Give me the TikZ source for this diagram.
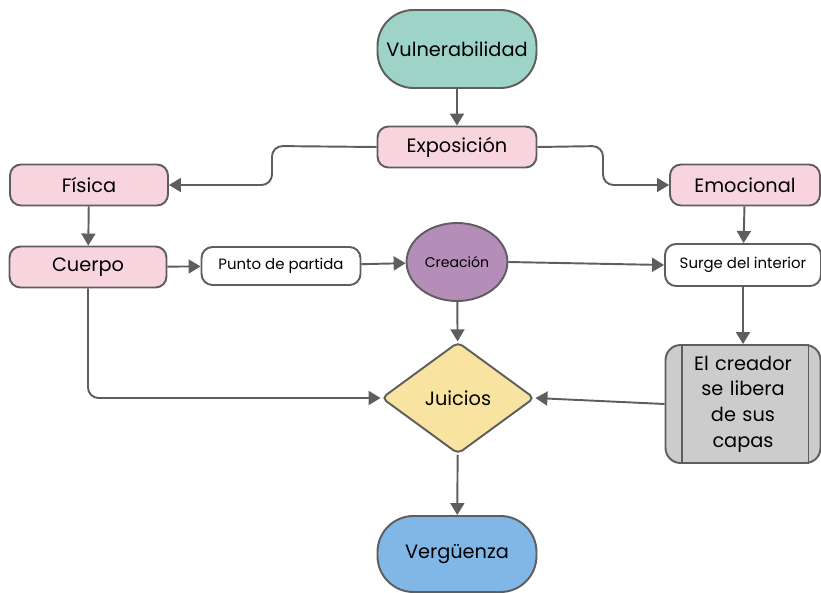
\documentclass[tikz,border=0pt]{standalone}
\usepackage{fontspec}
\setmainfont{Poppins}
\usepackage{xcolor}
\definecolor{linegrey}{RGB}{94,94,94}
\definecolor{tealfill}{RGB}{158,212,200}
\definecolor{pinkfill}{RGB}{248,212,223}
\definecolor{purplefill}{RGB}{180,141,184}
\definecolor{yellowfill}{RGB}{248,228,160}
\definecolor{greyfill}{RGB}{204,204,204}
\definecolor{bluefill}{RGB}{128,183,230}
\usetikzlibrary{shapes.geometric,arrows.meta,calc}

\begin{document}
\begin{tikzpicture}[x=0.02cm,y=-0.02cm,
        base/.style={draw=linegrey,line width=1.1pt,align=center,inner sep=2pt,font=\fontsize{11}{13}\selectfont},
        pill/.style={base,rounded corners=0.72cm,minimum width=3.18cm,minimum height=1.56cm},
        pinkbox/.style={base,fill=pinkfill,rounded corners=0.22cm,minimum height=0.82cm},
        whitebox/.style={base,fill=white,rounded corners=0.22cm,minimum height=0.76cm,font=\fontsize{8.5}{10}\selectfont},
        arrow/.style={-{Triangle[width=0.28cm,length=0.24cm]},line width=1.1pt,color=linegrey}
    ]
        \useasboundingbox (0,0) rectangle (821,592);

        % Nodes
        \node[pill,fill=tealfill] (vuln) at (457,49) {Vulnerabilidad};
        \node[pinkbox,minimum width=3.18cm] (expo) at (457,147) {Exposición};
        \node[pinkbox,minimum width=3.16cm] (fisica) at (89,185) {Física};
        \node[pinkbox,minimum width=3.0cm] (emocional) at (745,185) {Emocional};
        \node[pinkbox,minimum width=3.14cm] (cuerpo) at (88,267) {Cuerpo};
        \node[whitebox,minimum width=3.18cm] (punto) at (281,266) {Punto de partida};
        \node[base,ellipse,fill=purplefill,minimum width=2.0cm,minimum height=1.56cm,
              font=\fontsize{8}{10}\selectfont] (creacion) at (457,262) {Creación};
        \node[whitebox,minimum width=3.12cm,minimum height=0.84cm] (surge) at (743,265) {Surge del interior};
        \node[base,diamond,fill=yellowfill,aspect=1.35,inner sep=0pt,rounded corners=3pt,
              minimum width=3.06cm,minimum height=2.24cm] (juicios) at (458,398) {Juicios};
        \node[base,fill=greyfill,rounded corners=0.3cm,minimum width=3.1cm,minimum height=2.36cm,
              text width=2.2cm,font=\fontsize{11}{14.6}\selectfont] (creador) at (743,404) {El creador\\se libera\\de sus\\capas};
        \node[pill,fill=bluefill,minimum height=1.52cm] (verguenza) at (457,554) {Vergüenza};

        % inner bars of the process box
        \draw[linegrey,line width=1.1pt] ([xshift=0.34cm]creador.north west) -- ([xshift=0.34cm]creador.south west);
        \draw[linegrey,line width=1.1pt] ([xshift=-0.26cm]creador.north east) -- ([xshift=-0.26cm]creador.south east);

        % Arrows
        \draw[arrow] (vuln) -- (expo);
        \draw[arrow,rounded corners=6pt] (expo.west) -- (272,146) |- (fisica.east);
        \draw[arrow,rounded corners=6pt] (expo.east) -- (603,146) |- (emocional.west);
        \draw[arrow] (fisica) -- (cuerpo);
        \draw[arrow] (cuerpo) -- (punto);
        \draw[arrow] (punto) -- (creacion);
        \draw[arrow] (creacion.east) -- (surge.west);
        \draw[arrow] (emocional) -- (surge);
        \draw[arrow] (surge) -- (creador);
        \draw[arrow] (creacion) -- (juicios);
        \draw[arrow,rounded corners=6pt] (cuerpo.south) |- (juicios.west);
        \draw[arrow] (creador.west) -- (juicios.east);
        \draw[arrow] (juicios) -- (verguenza);
    \end{tikzpicture}
\end{document}
